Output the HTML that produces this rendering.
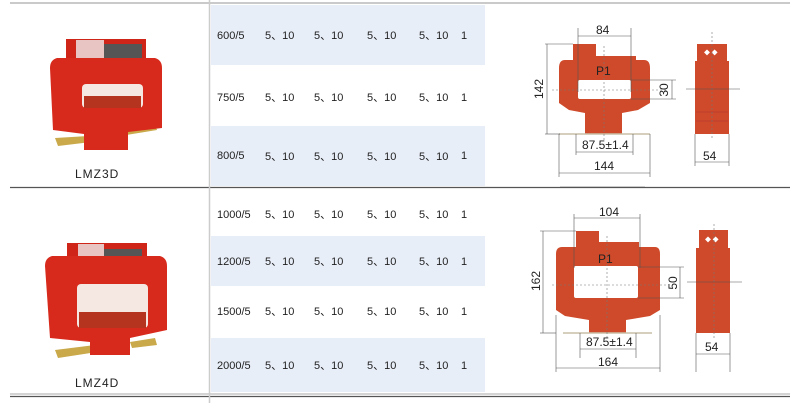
<!DOCTYPE html>
<html><head><meta charset="utf-8"><style>
html,body{margin:0;padding:0;background:#fff}
svg{display:block}
text{font-family:"Liberation Sans","Noto Sans CJK SC",sans-serif}
.t{font-size:11px;fill:#222}
.d{font-size:12px;fill:#222}
.ln{stroke:#555;stroke-width:0.6;fill:none}
.cl{stroke:#777;stroke-width:0.6;stroke-dasharray:2 2;fill:none}
</style></head><body>
<svg width="790" height="403" viewBox="0 0 790 403" xmlns="http://www.w3.org/2000/svg">
<!-- bands -->
<rect x="211" y="5" width="274" height="60" fill="#e8eef8"/>
<rect x="211" y="126" width="274" height="60" fill="#e8eef8"/>
<rect x="211" y="236" width="274" height="50" fill="#e8eef8"/>
<rect x="211" y="338" width="274" height="54" fill="#e8eef8"/>
<!-- lines -->
<line x1="10" y1="3" x2="790" y2="3" stroke="#aaa" stroke-width="1.2"/>
<line x1="10" y1="187.5" x2="790" y2="187.5" stroke="#555" stroke-width="1.2"/>
<line x1="10" y1="394" x2="790" y2="394" stroke="#aaa" stroke-width="1"/>
<line x1="10" y1="396.5" x2="790" y2="396.5" stroke="#555" stroke-width="1.2"/>
<line x1="209.5" y1="0" x2="209.5" y2="403" stroke="#ccc" stroke-width="1.5"/>

<!-- table text -->
<g class="t">
<text x="217" y="39">600/5</text><text x="265" y="39">5、10</text><text x="314" y="39">5、10</text><text x="367" y="39">5、10</text><text x="419" y="39">5、10</text><text x="461" y="39">1</text>
<text x="217" y="101">750/5</text><text x="265" y="101">5、10</text><text x="314" y="101">5、10</text><text x="367" y="101">5、10</text><text x="419" y="101">5、10</text><text x="461" y="101">1</text>
<text x="217" y="159">800/5</text><text x="265" y="160">5、10</text><text x="314" y="160">5、10</text><text x="367" y="160">5、10</text><text x="419" y="160">5、10</text><text x="461" y="159">1</text>
<text x="217" y="218">1000/5</text><text x="265" y="218">5、10</text><text x="314" y="218">5、10</text><text x="367" y="218">5、10</text><text x="419" y="218">5、10</text><text x="461" y="218">1</text>
<text x="217" y="265">1200/5</text><text x="265" y="265">5、10</text><text x="314" y="265">5、10</text><text x="367" y="265">5、10</text><text x="419" y="265">5、10</text><text x="461" y="265">1</text>
<text x="217" y="315">1500/5</text><text x="265" y="315">5、10</text><text x="314" y="315">5、10</text><text x="367" y="315">5、10</text><text x="419" y="315">5、10</text><text x="461" y="315">1</text>
<text x="217" y="369">2000/5</text><text x="265" y="369">5、10</text><text x="314" y="369">5、10</text><text x="367" y="369">5、10</text><text x="419" y="369">5、10</text><text x="461" y="369">1</text>
</g>

<!-- product 1 -->
<g>
<path d="M55 138 L105 135 L108 140 L58 146Z" fill="#c9a94a"/>
<path d="M105 132 L155 124 L157 130 L108 138Z" fill="#c9a94a"/>
<rect x="66" y="39" width="80" height="26" fill="#cf2418"/>
<rect x="76" y="40" width="28" height="22" fill="#eee" opacity="0.8"/>
<rect x="104" y="44" width="38" height="16" fill="#555"/>
<path d="M57 58 L155 58 Q162 60 162 68 L162 128 L128 132 L128 150 L84 150 L84 134 L53 130 L50 68 Q50 60 57 58Z" fill="#d82a1c"/>
<rect x="82" y="84" width="61" height="24" rx="4" fill="#f5e8e2"/>
<rect x="84" y="96" width="57" height="12" fill="#b5341f"/>
<text x="75" y="178" style="font-size:12px;letter-spacing:1px" fill="#222">LMZ3D</text>
</g>
<!-- product 2 -->
<g>
<path d="M55 350 L95 345 L97 352 L58 358Z" fill="#c9a94a"/>
<path d="M130 342 L155 338 L157 345 L132 348Z" fill="#c9a94a"/>
<rect x="67" y="243" width="80" height="27" fill="#cf2418"/>
<rect x="78" y="244" width="26" height="22" fill="#eee" opacity="0.8"/>
<rect x="104" y="249" width="38" height="16" fill="#555"/>
<path d="M52 256 L160 256 Q167 258 167 266 L167 330 L130 338 L130 355 L90 355 L90 342 L50 338 L45 266 Q45 258 52 256Z" fill="#d82a1c"/>
<rect x="77" y="284" width="71" height="44" rx="4" fill="#f5e8e2"/>
<rect x="79" y="312" width="67" height="16" fill="#b5341f"/>
<text x="75" y="387" style="font-size:12px;letter-spacing:1px" fill="#222">LMZ4D</text>
</g>

<!-- drawing 1 -->
<g>
<rect x="573" y="44" width="23" height="16" fill="#cf4a2a"/>
<rect x="573" y="56" width="63" height="6" fill="#cf4a2a"/>
<path d="M565 60 L644 60 Q650 60 650 68 L650 103 L638 110 L622 113 L622 134 L585 134 L585 113 L569 110 L559 103 L559 68 Q559 60 565 60Z" fill="#cf4a2a"/>
<rect x="578" y="80" width="53" height="19" rx="2" fill="#fff"/>
<line x1="559" y1="134" x2="650" y2="134" stroke="#c8bfa8" stroke-width="1.5"/>
<text x="596" y="75" class="d" fill="#222">P1</text>
<line class="cl" x1="604" y1="46" x2="604" y2="140"/>
<line class="cl" x1="552" y1="90" x2="668" y2="90"/>
<line class="ln" x1="578" y1="28" x2="578" y2="92"/><line class="ln" x1="631" y1="28" x2="631" y2="92"/>
<line class="ln" x1="578" y1="36" x2="631" y2="36"/>
<text x="596" y="34" class="d">84</text>
<line class="ln" x1="545" y1="44" x2="573" y2="44"/><line class="ln" x1="545" y1="134" x2="560" y2="134"/>
<line class="ln" x1="547" y1="44" x2="547" y2="134"/>
<text transform="translate(543,89) rotate(-90)" class="d" text-anchor="middle">142</text>
<line class="ln" x1="631" y1="80" x2="676" y2="80"/><line class="ln" x1="631" y1="99" x2="676" y2="99"/>
<line class="ln" x1="672" y1="80" x2="672" y2="99"/>
<text transform="translate(668,90) rotate(-90)" class="d" text-anchor="middle">30</text>
<line class="ln" x1="576" y1="134" x2="576" y2="155"/><line class="ln" x1="633" y1="134" x2="633" y2="155"/>
<line class="ln" x1="576" y1="152" x2="633" y2="152"/>
<text x="582" y="149" class="d">87.5±1.4</text>
<line class="ln" x1="559" y1="134" x2="559" y2="177"/><line class="ln" x1="650" y1="134" x2="650" y2="177"/>
<line class="ln" x1="559" y1="173" x2="650" y2="173"/>
<text x="594" y="170" class="d">144</text>
<line class="ln" x1="560" y1="187" x2="645" y2="187"/>
<!-- side 1 -->
<rect x="697" y="44" width="30" height="18" fill="#cf4a2a"/>
<rect x="695" y="61" width="34" height="73" fill="#cf4a2a"/>
<line x1="696" y1="112" x2="728" y2="112" stroke="#a33" stroke-width="0.6"/>
<line x1="696" y1="121" x2="728" y2="121" stroke="#a33" stroke-width="0.6"/>
<text x="704" y="55" style="font-size:6px" fill="#fff">◆ ◆</text>
<line class="cl" x1="712" y1="32" x2="712" y2="140"/>
<line class="ln" x1="686" y1="89" x2="740" y2="89"/>
<line class="ln" x1="695" y1="134" x2="695" y2="166"/><line class="ln" x1="729" y1="134" x2="729" y2="166"/>
<line class="ln" x1="695" y1="162" x2="729" y2="162"/>
<text x="703" y="160" class="d">54</text>
</g>

<!-- drawing 2 -->
<g>
<rect x="576" y="231" width="23" height="16" fill="#cf4a2a"/>
<rect x="576" y="242" width="63" height="6" fill="#cf4a2a"/>
<path d="M562 247 L655 247 Q660 247 660 254 L660 310 L650 316 L626 320 L626 333 L589 333 L589 320 L565 316 L556 310 L556 254 Q556 247 562 247Z" fill="#cf4a2a"/>
<rect x="574" y="266" width="64" height="32" rx="2" fill="#fff"/>
<line x1="563" y1="333" x2="652" y2="333" stroke="#c8bfa8" stroke-width="1.5"/>
<text x="598" y="263" class="d">P1</text>
<line class="cl" x1="607" y1="236" x2="607" y2="340"/>
<line class="cl" x1="552" y1="285" x2="668" y2="285"/>
<line class="ln" x1="574" y1="214" x2="574" y2="268"/><line class="ln" x1="640" y1="214" x2="640" y2="268"/>
<line class="ln" x1="574" y1="218" x2="640" y2="218"/>
<text x="599" y="216" class="d">104</text>
<line class="ln" x1="540" y1="231" x2="576" y2="231"/><line class="ln" x1="540" y1="333" x2="556" y2="333"/>
<line class="ln" x1="543" y1="231" x2="543" y2="333"/>
<text transform="translate(540,281) rotate(-90)" class="d" text-anchor="middle">162</text>
<line class="ln" x1="638" y1="267" x2="684" y2="267"/><line class="ln" x1="638" y1="298" x2="684" y2="298"/>
<line class="ln" x1="680" y1="267" x2="680" y2="298"/>
<text transform="translate(677,283) rotate(-90)" class="d" text-anchor="middle">50</text>
<line class="ln" x1="580" y1="333" x2="580" y2="358"/><line class="ln" x1="636" y1="333" x2="636" y2="358"/>
<line class="ln" x1="580" y1="349" x2="636" y2="349"/>
<text x="586" y="346" class="d">87.5±1.4</text>
<line class="ln" x1="556" y1="315" x2="556" y2="372"/><line class="ln" x1="660" y1="315" x2="660" y2="372"/>
<line class="ln" x1="556" y1="368" x2="660" y2="368"/>
<text x="598" y="366" class="d">164</text>
<!-- side 2 -->
<rect x="699" y="230" width="29" height="18" fill="#cf4a2a"/>
<rect x="696" y="248" width="34" height="85" fill="#cf4a2a"/>
<text x="705" y="242" style="font-size:6px" fill="#fff">◆ ◆</text>
<line class="cl" x1="714" y1="224" x2="714" y2="340"/>
<line class="ln" x1="687" y1="282" x2="742" y2="282"/>
<line class="ln" x1="696" y1="333" x2="696" y2="372"/><line class="ln" x1="730" y1="333" x2="730" y2="372"/>
<line class="ln" x1="696" y1="354" x2="730" y2="354"/>
<text x="705" y="351" class="d">54</text>
</g>
</svg>
</body></html>
